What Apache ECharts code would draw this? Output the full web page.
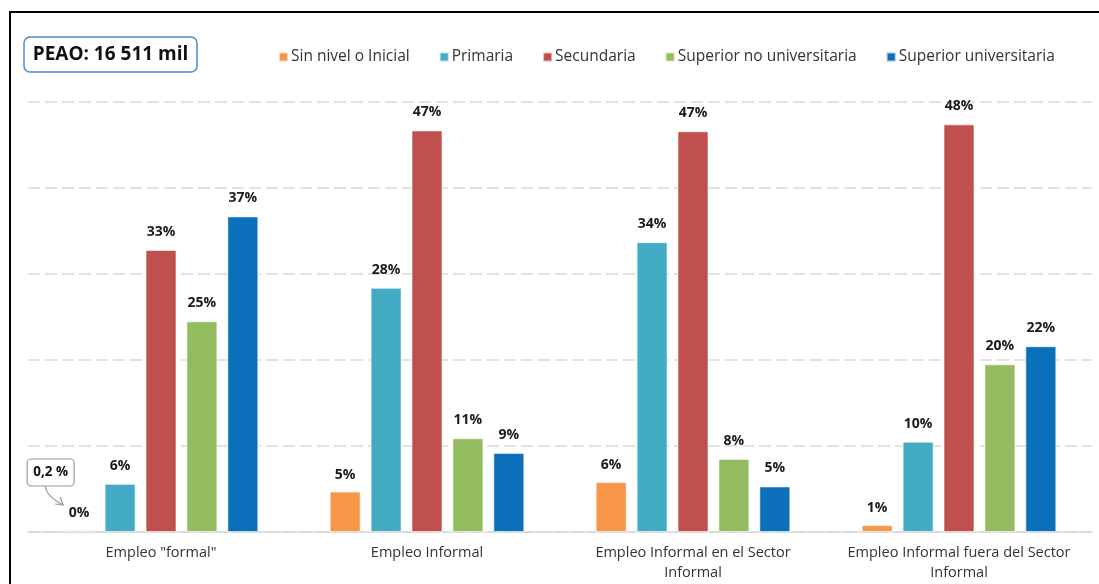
<!DOCTYPE html>
<html><head><meta charset="utf-8">
<script src="https://cdn.jsdelivr.net/npm/echarts@6/dist/echarts.min.js"></script>
<style>html,body{margin:0;padding:0;background:#fff}#c{width:1099px;height:584px}</style>
</head><body><div id="c"></div>
<script>
var categories = ['Empleo "formal"', 'Empleo Informal', 'Empleo Informal en el Sector\nInformal', 'Empleo Informal fuera del Sector\nInformal'];
var seriesNames = ['Sin nivel o Inicial', 'Primaria', 'Secundaria', 'Superior no universitaria', 'Superior universitaria'];
var sinNivel = [0.2, 4.7, 5.8, 0.8];
var primaria = [5.6, 28.4, 33.7, 10.5];
var secundaria = [32.8, 46.7, 46.6, 47.4];
var superiorNoUniv = [24.5, 10.9, 8.5, 19.5];
var superiorUniv = [36.7, 9.2, 5.3, 21.6];
var sinNivelLabels = ['0%', '5%', '6%', '1%'];
var primariaLabels = ['6%', '28%', '34%', '10%'];
var secundariaLabels = ['33%', '47%', '47%', '48%'];
var superiorNoUnivLabels = ['25%', '11%', '8%', '20%'];
var superiorUnivLabels = ['37%', '9%', '5%', '22%'];
var colors = ['#F79646', '#43ACC4', '#C0504D', '#93BB60', '#0B70B9'];
var boxTitle = 'PEAO: 16 511 mil';
var callout = '0,2 %';

var values = [sinNivel, primaria, secundaria, superiorNoUniv, superiorUniv];
var labels = [sinNivelLabels, primariaLabels, secundariaLabels, superiorNoUnivLabels, superiorUnivLabels];

var chart = echarts.init(document.getElementById('c'));
var series = values.map(function (v, i) {
  return {
    name: seriesNames[i], type: 'bar', data: v,
    barWidth: 31, barGap: '32%',
    itemStyle: { color: colors[i], borderColor: 'rgba(255,255,255,0.6)', borderWidth: 1 },
    label: {
      show: true, position: 'top', distance: i === 0 ? 10 : 11,
      fontFamily: 'Open Sans', fontWeight: 'bold', fontSize: 14, color: '#1a1a1a',
      formatter: function (p) { return labels[i][p.dataIndex]; }
    }
  };
});
var baseGraphic = [
  { type: 'rect', shape: { x: 10, y: 12, width: 1200, height: 700 }, style: { fill: 'none', stroke: '#000', lineWidth: 2 }, silent: true },
  { type: 'rect', shape: { x: 24, y: 37, width: 173, height: 35, r: 6 }, style: { fill: '#fff', stroke: '#4a8ccf', lineWidth: 1.5 } },
  { type: 'text', x: 110.5, y: 54.5, style: { text: boxTitle, fontFamily: 'Open Sans', fontWeight: 'bold', fontSize: 19, fill: '#111', align: 'center', verticalAlign: 'middle' } }
];
chart.setOption({
  animation: false,
  grid: { left: 28, right: 7, top: 102, bottom: 52, containLabel: false },
  legend: {
    top: 44, left: 273, itemWidth: 9, itemHeight: 9, itemGap: 29,
    icon: 'rect',
    textStyle: { fontFamily: 'Open Sans', fontSize: 15.5, color: '#333', padding: [0, 0, 0, -2] },
    data: seriesNames
  },
  xAxis: {
    type: 'category', data: categories,
    axisLine: { lineStyle: { color: '#d9d9d9', width: 1.5 } },
    axisTick: { show: false },
    axisLabel: { interval: 0, fontFamily: 'Open Sans', fontSize: 14.5, color: '#333', margin: 11, lineHeight: 20 }
  },
  yAxis: {
    type: 'value', min: 0, max: 50, interval: 10,
    axisLabel: { show: false }, axisLine: { show: false }, axisTick: { show: false },
    splitLine: { lineStyle: { color: '#d9d9d9', type: [12, 5], width: 1.5 } }
  },
  series: series,
  graphic: baseGraphic
});

// callout anchored to the 0.2% bar
var cx, base;
try {
  var lay = chart.getModel().getSeriesByIndex(0).getData().getItemLayout(0);
  cx = lay.x + lay.width / 2;
} catch (e) {
  cx = chart.convertToPixel({ xAxisIndex: 0 }, 0) - 2 * 31 * 1.32;
}
base = chart.convertToPixel({ yAxisIndex: 0 }, 0);
var bx = cx - 52, by = base - 73;
chart.setOption({
  graphic: baseGraphic.concat([
    { type: 'rect', shape: { x: bx, y: by, width: 47, height: 27, r: 4 }, style: { fill: '#fff', stroke: '#9a9a9a', lineWidth: 1.2 } },
    { type: 'text', x: bx + 23.5, y: by + 13.5, style: { text: callout, fontFamily: 'Open Sans', fontWeight: 'bold', fontSize: 13.5, fill: '#111', align: 'center', verticalAlign: 'middle' } },
    { type: 'bezierCurve', shape: { x1: cx - 34, y1: base - 46, cpx1: cx - 33, cpy1: base - 36, x2: cx - 16, y2: base - 27 }, style: { stroke: '#9a9a9a', lineWidth: 1.2, fill: 'none' } },
    { type: 'polyline', shape: { points: [[cx - 24, base - 28], [cx - 16, base - 27], [cx - 19, base - 35]] }, style: { stroke: '#9a9a9a', lineWidth: 1.2, fill: 'none' } }
  ])
});
</script></body></html>
